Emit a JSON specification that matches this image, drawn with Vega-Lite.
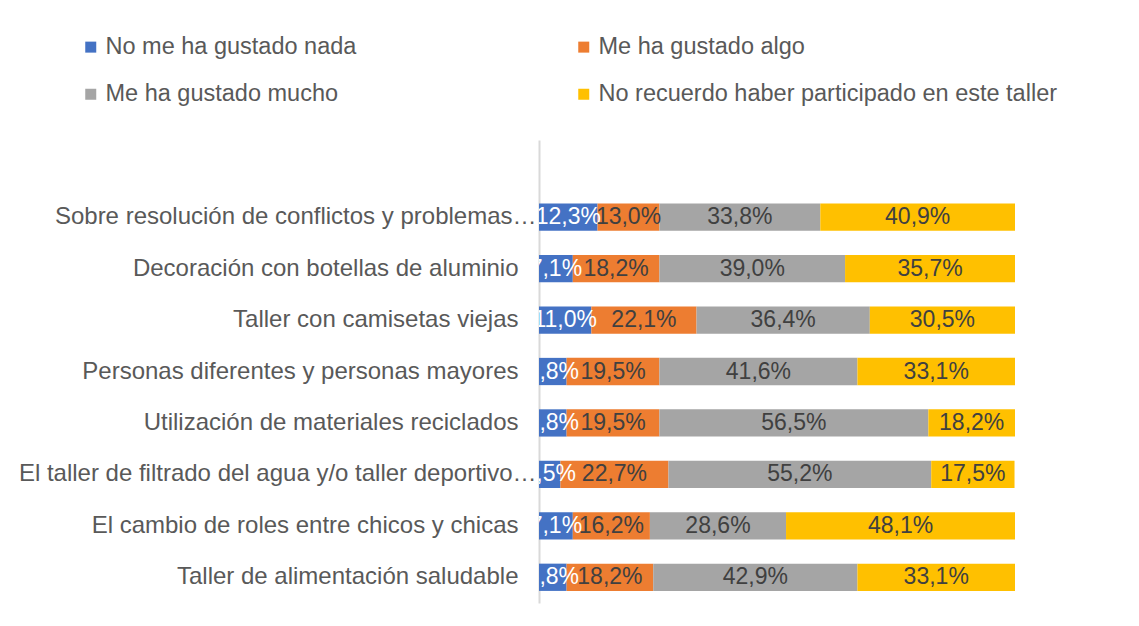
{
  "$schema": "https://vega.github.io/schema/vega-lite/v6.json",
  "autosize": {"type": "none"},
  "padding": {"left": 539, "top": 140, "right": 124, "bottom": 23},
  "width": 476,
  "height": 463,
  "background": "white",
  "config": {
    "view": {"stroke": null},
    "font": "Liberation Sans"
  },
  "data": {
    "values": [
      {"taller": "Sobre resolución de conflictos y problemas…", "serie": "No me ha gustado nada", "n": 1, "pct": 12.3, "label": "12,3%"},
      {"taller": "Sobre resolución de conflictos y problemas…", "serie": "Me ha gustado algo", "n": 2, "pct": 13.0, "label": "13,0%"},
      {"taller": "Sobre resolución de conflictos y problemas…", "serie": "Me ha gustado mucho", "n": 3, "pct": 33.8, "label": "33,8%"},
      {"taller": "Sobre resolución de conflictos y problemas…", "serie": "No recuerdo haber participado en este taller", "n": 4, "pct": 40.9, "label": "40,9%"},
      {"taller": "Decoración con botellas de aluminio", "serie": "No me ha gustado nada", "n": 1, "pct": 7.1, "label": "7,1%"},
      {"taller": "Decoración con botellas de aluminio", "serie": "Me ha gustado algo", "n": 2, "pct": 18.2, "label": "18,2%"},
      {"taller": "Decoración con botellas de aluminio", "serie": "Me ha gustado mucho", "n": 3, "pct": 39.0, "label": "39,0%"},
      {"taller": "Decoración con botellas de aluminio", "serie": "No recuerdo haber participado en este taller", "n": 4, "pct": 35.7, "label": "35,7%"},
      {"taller": "Taller con camisetas viejas", "serie": "No me ha gustado nada", "n": 1, "pct": 11.0, "label": "11,0%"},
      {"taller": "Taller con camisetas viejas", "serie": "Me ha gustado algo", "n": 2, "pct": 22.1, "label": "22,1%"},
      {"taller": "Taller con camisetas viejas", "serie": "Me ha gustado mucho", "n": 3, "pct": 36.4, "label": "36,4%"},
      {"taller": "Taller con camisetas viejas", "serie": "No recuerdo haber participado en este taller", "n": 4, "pct": 30.5, "label": "30,5%"},
      {"taller": "Personas diferentes y personas mayores", "serie": "No me ha gustado nada", "n": 1, "pct": 5.8, "label": "5,8%"},
      {"taller": "Personas diferentes y personas mayores", "serie": "Me ha gustado algo", "n": 2, "pct": 19.5, "label": "19,5%"},
      {"taller": "Personas diferentes y personas mayores", "serie": "Me ha gustado mucho", "n": 3, "pct": 41.6, "label": "41,6%"},
      {"taller": "Personas diferentes y personas mayores", "serie": "No recuerdo haber participado en este taller", "n": 4, "pct": 33.1, "label": "33,1%"},
      {"taller": "Utilización de materiales reciclados", "serie": "No me ha gustado nada", "n": 1, "pct": 5.8, "label": "5,8%"},
      {"taller": "Utilización de materiales reciclados", "serie": "Me ha gustado algo", "n": 2, "pct": 19.5, "label": "19,5%"},
      {"taller": "Utilización de materiales reciclados", "serie": "Me ha gustado mucho", "n": 3, "pct": 56.5, "label": "56,5%"},
      {"taller": "Utilización de materiales reciclados", "serie": "No recuerdo haber participado en este taller", "n": 4, "pct": 18.2, "label": "18,2%"},
      {"taller": "El taller de filtrado del agua y/o taller deportivo…", "serie": "No me ha gustado nada", "n": 1, "pct": 4.5, "label": "4,5%"},
      {"taller": "El taller de filtrado del agua y/o taller deportivo…", "serie": "Me ha gustado algo", "n": 2, "pct": 22.7, "label": "22,7%"},
      {"taller": "El taller de filtrado del agua y/o taller deportivo…", "serie": "Me ha gustado mucho", "n": 3, "pct": 55.2, "label": "55,2%"},
      {"taller": "El taller de filtrado del agua y/o taller deportivo…", "serie": "No recuerdo haber participado en este taller", "n": 4, "pct": 17.5, "label": "17,5%"},
      {"taller": "El cambio de roles entre chicos y chicas", "serie": "No me ha gustado nada", "n": 1, "pct": 7.1, "label": "7,1%"},
      {"taller": "El cambio de roles entre chicos y chicas", "serie": "Me ha gustado algo", "n": 2, "pct": 16.2, "label": "16,2%"},
      {"taller": "El cambio de roles entre chicos y chicas", "serie": "Me ha gustado mucho", "n": 3, "pct": 28.6, "label": "28,6%"},
      {"taller": "El cambio de roles entre chicos y chicas", "serie": "No recuerdo haber participado en este taller", "n": 4, "pct": 48.1, "label": "48,1%"},
      {"taller": "Taller de alimentación saludable", "serie": "No me ha gustado nada", "n": 1, "pct": 5.8, "label": "5,8%"},
      {"taller": "Taller de alimentación saludable", "serie": "Me ha gustado algo", "n": 2, "pct": 18.2, "label": "18,2%"},
      {"taller": "Taller de alimentación saludable", "serie": "Me ha gustado mucho", "n": 3, "pct": 42.9, "label": "42,9%"},
      {"taller": "Taller de alimentación saludable", "serie": "No recuerdo haber participado en este taller", "n": 4, "pct": 33.1, "label": "33,1%"}
    ]
  },
  "transform": [
    {"stack": "pct", "groupby": ["taller"], "sort": [{"field": "n", "order": "ascending"}], "as": ["x0", "x1"]},
    {"calculate": "(datum.x0 + datum.x1) / 2", "as": "xm"}
  ],
  "encoding": {
    "y": {
      "field": "taller",
      "type": "nominal",
      "scale": {
        "domain": [" ", "Sobre resolución de conflictos y problemas…", "Decoración con botellas de aluminio", "Taller con camisetas viejas", "Personas diferentes y personas mayores", "Utilización de materiales reciclados", "El taller de filtrado del agua y/o taller deportivo…", "El cambio de roles entre chicos y chicas", "Taller de alimentación saludable"],
        "paddingInner": 0.47,
        "paddingOuter": 0.235
      },
      "axis": {
        "title": null,
        "ticks": false,
        "domainColor": "#d9d9d9",
        "domainWidth": 2,
        "labelFontSize": 24,
        "labelColor": "#595959",
        "labelPadding": {"condition": {"test": "indexof(datum.label, '…') >= 0", "value": 3}, "value": 21},
        "labelLimit": 700,
        "grid": false
      }
    }
  },
  "layer": [
    {
      "mark": {"type": "bar"},
      "encoding": {
        "x": {"field": "x0", "type": "quantitative", "scale": {"domain": [0, 100], "nice": false}, "axis": null},
        "x2": {"field": "x1"},
        "color": {
          "field": "serie",
          "type": "nominal",
          "scale": {
            "domain": ["No me ha gustado nada", "Me ha gustado algo", "Me ha gustado mucho", "No recuerdo haber participado en este taller"],
            "range": ["#4472C4", "#ED7D31", "#A5A5A5", "#FFC000"]
          },
          "legend": {
            "title": null,
            "orient": "none",
            "legendX": -460,
            "legendY": -105,
            "direction": "horizontal",
            "columns": 2,
            "columnPadding": 215,
            "rowPadding": 22.5,
            "symbolType": "square",
            "symbolSize": 121,
            "symbolStrokeWidth": 0,
            "labelFontSize": 23.5,
            "labelColor": "#595959",
            "labelOffset": 3,
            "labelLimit": 700
          }
        }
      }
    },
    {
      "mark": {"type": "text", "fontSize": 23, "clip": true, "align": "center", "baseline": "middle"},
      "encoding": {
        "x": {"field": "xm", "type": "quantitative"},
        "text": {"field": "label"},
        "color": {"condition": {"test": "datum.n === 1", "value": "white"}, "value": "#404040"}
      }
    }
  ]
}
